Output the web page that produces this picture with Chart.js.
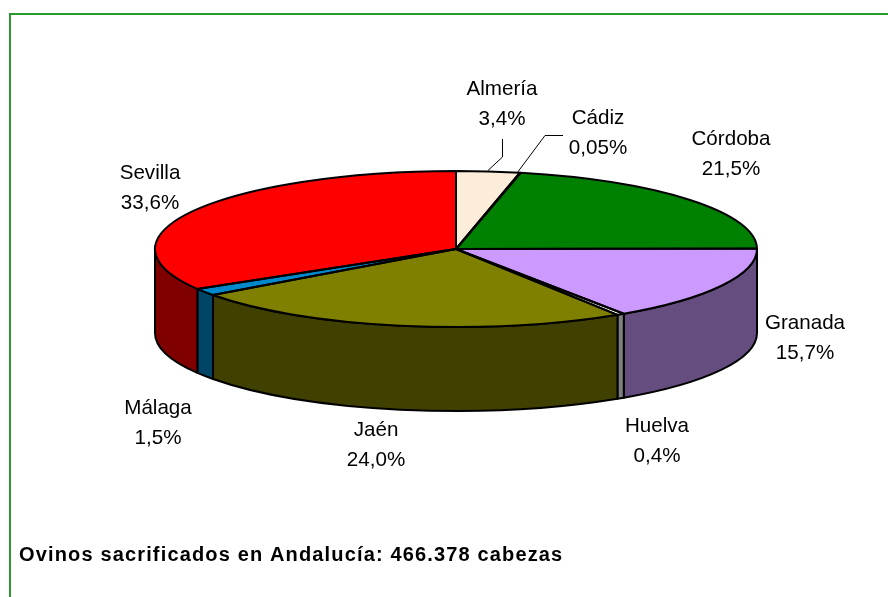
<!DOCTYPE html>
<html><head><meta charset="utf-8">
<script src="https://cdn.jsdelivr.net/npm/chart.js@4"></script>
<style>html,body{margin:0;padding:0;background:#fff}canvas{display:block}</style>
</head><body>
<canvas id="c" width="888" height="597"></canvas>
<script>
const categories = ["Almería","Cádiz","Córdoba","Granada","Huelva","Jaén","Málaga","Sevilla"];
const values = [3.4,0.05,21.5,15.7,0.4,24.0,1.5,33.6];
const valueLabels = ["3,4%","0,05%","21,5%","15,7%","0,4%","24,0%","1,5%","33,6%"];
const topColors = ["#FBEDD9","#FFFFFF","#008000","#CC99FF","#FFFFFF","#808000","#0088CC","#FF0000"];
const wallColors = ["#7E7770","#808080","#004000","#664D80","#808080","#404000","#004466","#800000"];
const chartTitle = "Ovinos sacrificados en Andalucía: 466.378 cabezas";

const labelCentres = {"Almería":[502,104],"Cádiz":[598,133.5],"Córdoba":[731,154],"Granada":[805,338],
  "Huelva":[657,441],"Jaén":[376,445],"Málaga":[158,423],"Sevilla":[150,188]};
const RX = 301, RY = 78, DEPTH = 84;

const pie3d = {
  id:'pie3d',
  beforeDatasetsDraw(chart){
    const ctx = chart.ctx, arcs = chart.getDatasetMeta(0).data;
    const cx = arcs[0].x, cy = arcs[0].y;
    // side walls: only the front half of the rim is visible
    ctx.save();
    ctx.lineJoin='round';
    arcs.forEach((a,i)=>{
      const s = Math.max(a.startAngle,0), e = Math.min(a.endAngle,Math.PI);
      if(e<=s) return;
      ctx.beginPath();
      ctx.ellipse(cx,cy,RX,RY,0,s,e,false);
      ctx.ellipse(cx,cy+DEPTH,RX,RY,0,e,s,true);
      ctx.closePath();
      ctx.fillStyle = wallColors[i];
      ctx.fill();
      ctx.strokeStyle='#000'; ctx.lineWidth=2; ctx.stroke();
    });
    ctx.restore();
    // flatten the library's circular pie into the top ellipse
    ctx.save();
    ctx.translate(cx,cy); ctx.scale(1,RY/RX); ctx.translate(-cx,-cy);
  },
  afterDatasetsDraw(chart){
    const ctx = chart.ctx, arcs = chart.getDatasetMeta(0).data;
    ctx.restore();
    const cx = arcs[0].x, cy = arcs[0].y;
    ctx.save();
    ctx.strokeStyle='#000'; ctx.lineWidth=2; ctx.lineJoin='round';
    arcs.forEach(a=>{
      ctx.beginPath();
      ctx.moveTo(cx,cy);
      ctx.ellipse(cx,cy,RX,RY,0,a.startAngle,a.endAngle,false);
      ctx.closePath();
      ctx.stroke();
    });
    ctx.restore();

    // leader lines end on the rim at each slice's mid angle
    const rim = i=>{const m=(arcs[i].startAngle+arcs[i].endAngle)/2;return [cx+RX*Math.cos(m),cy+RY*Math.sin(m)];};
    ctx.save();
    ctx.strokeStyle='#000'; ctx.lineWidth=1;
    let p = rim(0);
    ctx.beginPath(); ctx.moveTo(502.5,139); ctx.lineTo(502.5,157); ctx.lineTo(p[0],p[1]-1); ctx.stroke();
    p = rim(1);
    ctx.beginPath(); ctx.moveTo(563,135.5); ctx.lineTo(545,135.5); ctx.lineTo(p[0]-3,p[1]); ctx.stroke();
    ctx.restore();

    // labels
    ctx.save();
    ctx.fillStyle='#000'; ctx.textAlign='center'; ctx.textBaseline='middle';
    ctx.font='20.6px "Liberation Sans", Arial, sans-serif';
    categories.forEach((c,i)=>{
      const [x,y]=labelCentres[c];
      ctx.fillText(c,x,y-15);
      ctx.fillText(valueLabels[i],x,y+15);
    });
    ctx.textAlign='left';
    ctx.font='bold 20px "Liberation Sans", Arial, sans-serif';
    ctx.letterSpacing='1.15px';
    ctx.fillText(chartTitle,19,555);
    ctx.restore();

    // frame
    ctx.save();
    ctx.strokeStyle='#2A9A2A'; ctx.lineWidth=2;
    ctx.beginPath(); ctx.moveTo(10,597); ctx.lineTo(10,14); ctx.lineTo(888,14); ctx.stroke();
    ctx.restore();
  }
};

new Chart(document.getElementById('c'),{
  type:'pie',
  data:{labels:categories,datasets:[{data:values,backgroundColor:topColors,borderWidth:0,clip:false}]},
  options:{
    responsive:false,animation:false,
    radius:RX,
    layout:{padding:{left:24,bottom:99}},
    plugins:{legend:{display:false},tooltip:{enabled:false},title:{display:false}}
  },
  plugins:[pie3d]
});
</script>
</body></html>
